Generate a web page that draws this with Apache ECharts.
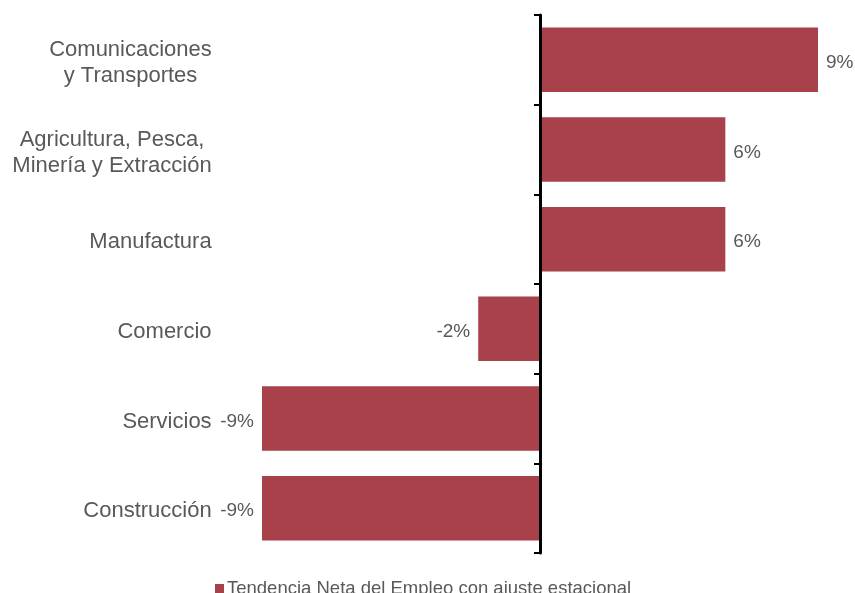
<!DOCTYPE html>
<html>
<head>
<meta charset="utf-8">
<script src="https://cdn.jsdelivr.net/npm/echarts@6/dist/echarts.min.js"></script>
<style>
html,body{margin:0;padding:0;background:#fff;}
#c{width:855px;height:593px;}
</style>
</head>
<body>
<div id="c"></div>
<script>
const categories = [
  'Comunicaciones\ny Transportes',
  'Agricultura, Pesca,\nMinería y Extracción',
  'Manufactura',
  'Comercio',
  'Servicios',
  'Construcción'
];
const values = [9, 6, 6, -2, -9, -9];
const seriesName = 'Tendencia Neta del Empleo con ajuste estacional';

const chart = echarts.init(document.getElementById('c'));
const font = 'Liberation Sans, Arial, sans-serif';
const grey = '#595959';
const catSize = 22;

// measure text widths so multi-line category labels can be centred line by line
const ctx = document.createElement('canvas').getContext('2d');
ctx.font = catSize + 'px ' + font;
const rich = {};
categories.forEach((c, i) => {
  const w = Math.max.apply(null, c.split('\n').map(s => ctx.measureText(s).width));
  rich['c' + i] = { width: Math.ceil(w), align: 'center', fontSize: catSize, color: grey, fontFamily: font, lineHeight: 26 };
});

chart.setOption({
  animation: false,
  grid: { left: 262, right: 37, top: 15, bottom: 40, containLabel: false },
  xAxis: {
    type: 'value', min: -9, max: 9, show: false
  },
  yAxis: [
    {
      type: 'category', data: categories, inverse: true, position: 'left',
      axisLine: { show: false, onZero: false }, axisTick: { show: false },
      splitLine: { show: false },
      axisLabel: {
        margin: 50, fontSize: catSize, color: grey, fontFamily: font, lineHeight: 26,
        padding: [6, 0, 0, 0],
        formatter: (v, i) => v.split('\n').map(s => '{c' + i + '|' + s + '}').join('\n'),
        rich: rich
      }
    },
    {
      type: 'category', data: categories, inverse: true, position: 'right', z: 5,
      axisLine: { show: true, onZero: true, lineStyle: { color: '#000', width: 3 } },
      axisTick: { show: true, inside: true, length: 6, lineStyle: { color: '#000', width: 2 } },
      axisLabel: { show: false }, splitLine: { show: false }
    }
  ],
  legend: {
    show: true, left: 210, top: 574, itemWidth: 9, itemHeight: 9, itemGap: 10,
    icon: 'rect',
    textStyle: { fontSize: 18.5, color: grey, fontFamily: font, padding: [0, 0, 0, -2] },
    data: [seriesName]
  },
  series: [{
    name: seriesName, type: 'bar', yAxisIndex: 0,
    barCategoryGap: '28%',
    itemStyle: { color: '#A9414B' },
    data: values.map(v => ({
      value: v,
      label: { position: v < 0 ? 'left' : 'right' }
    })),
    label: {
      show: true, distance: 8, fontSize: 19, color: grey, fontFamily: font,
      offset: [0, 3],
      formatter: p => p.value + '%'
    }
  }]
});
</script>
</body>
</html>
